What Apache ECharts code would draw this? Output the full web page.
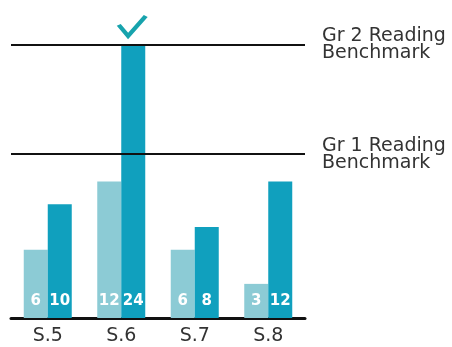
<!DOCTYPE html>
<html>
<head>
<meta charset="utf-8">
<script src="https://cdn.jsdelivr.net/npm/echarts@6/dist/echarts.min.js"></script>
<style>
html,body{margin:0;padding:0;background:#fff;}
#chart{width:452px;height:347px;}
</style>
</head>
<body>
<div id="chart"></div>
<script>
var categories = ['S.5', 'S.6', 'S.7', 'S.8'];
var lightValues = [6, 12, 6, 3];
var darkValues = [10, 24, 8, 12];
var benchmarkValues = [24, 14.4];
var benchmarkLabels = ['Gr 2 Reading\nBenchmark', 'Gr 1 Reading\nBenchmark'];
var checkCategory = 'S.6';
var checkValue = 24;

var chart = echarts.init(document.getElementById('chart'));
var labelStyle = {
  show: true,
  position: 'insideBottom',
  distance: 9,
  color: '#ffffff',
  fontFamily: 'DejaVu Sans',
  fontWeight: 'bold',
  fontSize: 15
};
chart.setOption({
  animation: false,
  backgroundColor: '#ffffff',
  grid: { left: 11, right: 147, top: 45, bottom: 29 },
  xAxis: {
    type: 'category',
    data: categories,
    axisLine: { show: true, lineStyle: { color: '#111111', width: 3 } },
    axisTick: { show: false },
    axisLabel: { color: '#333333', fontSize: 19, fontFamily: 'DejaVu Sans', margin: 9 }
  },
  yAxis: { type: 'value', min: 0, max: 24, show: false, splitLine: { show: false } },
  series: [
    {
      type: 'bar',
      data: lightValues,
      barWidth: 24,
      barGap: '0%',
      itemStyle: { color: '#8ccbd5' },
      label: labelStyle,
      z: 2
    },
    {
      type: 'bar',
      data: darkValues,
      barWidth: 24,
      barGap: '0%',
      itemStyle: { color: '#10a0be' },
      label: labelStyle,
      z: 2,
      markLine: {
        silent: true,
        symbol: ['none', 'none'],
        lineStyle: { color: '#111111', width: 2, type: 'solid' },
        label: {
          show: true,
          position: 'end',
          distance: 17,
          color: '#333333',
          fontFamily: 'DejaVu Sans',
          fontSize: 19,
          lineHeight: 17,
          align: 'left',
          padding: [8, 0, 0, 0]
        },
        data: benchmarkValues.map(function (v, i) {
          return { yAxis: v, label: { formatter: benchmarkLabels[i] } };
        })
      },
      markPoint: {
        silent: true,
        data: [{
          coord: [checkCategory, checkValue],
          symbol: 'path://M2,10 L11,20 L28,2',
          symbolSize: [27, 20],
          symbolOffset: [-1, -19],
          itemStyle: { color: 'transparent', borderColor: '#17a3ad', borderWidth: 4 },
          label: { show: false }
        }]
      }
    }
  ]
});
</script>
</body>
</html>
